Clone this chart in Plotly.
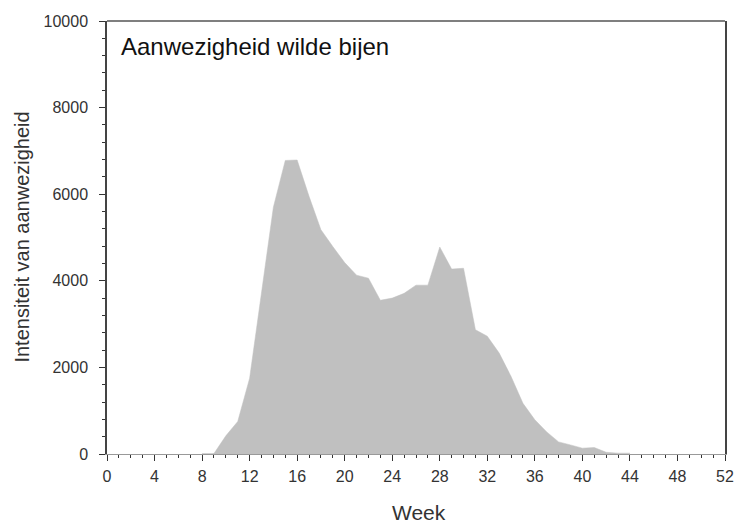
import plotly.graph_objects as go

weeks = list(range(8, 45))
intensity = [10, 10, 420, 750, 1750, 3750, 5700, 6780, 6790, 5950,
             5180, 4790, 4420, 4130, 4060, 3550, 3600, 3710, 3900, 3900,
             4780, 4270, 4290, 2870, 2720, 2330, 1790, 1170, 790, 510,
             280, 210, 135, 150, 40, 20, 20]

x_ticks = list(range(0, 53, 4))
y_ticks = list(range(0, 10001, 2000))
y_tick_labels = [str(v) for v in y_ticks]

title_text = "Aanwezigheid wilde bijen"
x_title = "Week"
y_title = "Intensiteit van aanwezigheid"

FONT = "Liberation Sans, Arial, sans-serif"
TXT = "#333333"

fig = go.Figure()
fig.add_trace(go.Scatter(
    x=weeks, y=intensity, mode="lines", fill="tozeroy",
    fillcolor="#C0C0C0", line=dict(color="#C0C0C0", width=0.5),
    hoverinfo="x+y", showlegend=False))

fig.update_layout(
    width=737, height=524,
    margin=dict(l=107, r=12, t=21, b=70),
    paper_bgcolor="white", plot_bgcolor="white",
    font=dict(family=FONT, color=TXT),
    xaxis=dict(range=[0, 52], tickvals=x_ticks, ticks="outside", ticklen=6,
               tickcolor=TXT, tickwidth=1, automargin=False,
               minor=dict(dtick=1, ticks="outside", ticklen=3, tickcolor=TXT),
               showgrid=False, zeroline=False, showline=True, linecolor="#999999",
               linewidth=1, tickfont=dict(size=16, color=TXT), ticklabelstandoff=2),
    yaxis=dict(range=[0, 10000], tickvals=y_ticks, ticktext=y_tick_labels,
               ticks="outside", ticklen=6, tickcolor=TXT, tickwidth=1, automargin=False,
               minor=dict(dtick=400, ticks="outside", ticklen=3, tickcolor=TXT),
               showgrid=False, zeroline=False, showline=True, linecolor="#444444",
               linewidth=1.5, mirror=True, tickfont=dict(size=16, color=TXT),
               ticklabelstandoff=8),
    shapes=[dict(type="line", xref="paper", yref="paper", x0=0, x1=1, y0=1, y1=1,
                 line=dict(color="#555555", width=1.5))],
    annotations=[
        dict(text=title_text, xref="paper", yref="paper", x=0.02, y=0.942,
             xanchor="left", yanchor="middle", showarrow=False,
             font=dict(size=24, color="#111111", family=FONT)),
        dict(text=x_title, xref="paper", yref="paper", x=0.505, y=-0.136,
             xanchor="center", yanchor="middle", showarrow=False,
             font=dict(size=21, color=TXT, family=FONT)),
        dict(text=y_title, xref="paper", yref="paper", x=-0.139, y=0.5,
             xanchor="center", yanchor="middle", showarrow=False, textangle=-90,
             font=dict(size=20, color=TXT, family=FONT)),
    ],
)

fig.write_html("out.html", config={"displayModeBar": False},
               post_script="document.body.style.margin='0';document.body.style.overflow='hidden';")
